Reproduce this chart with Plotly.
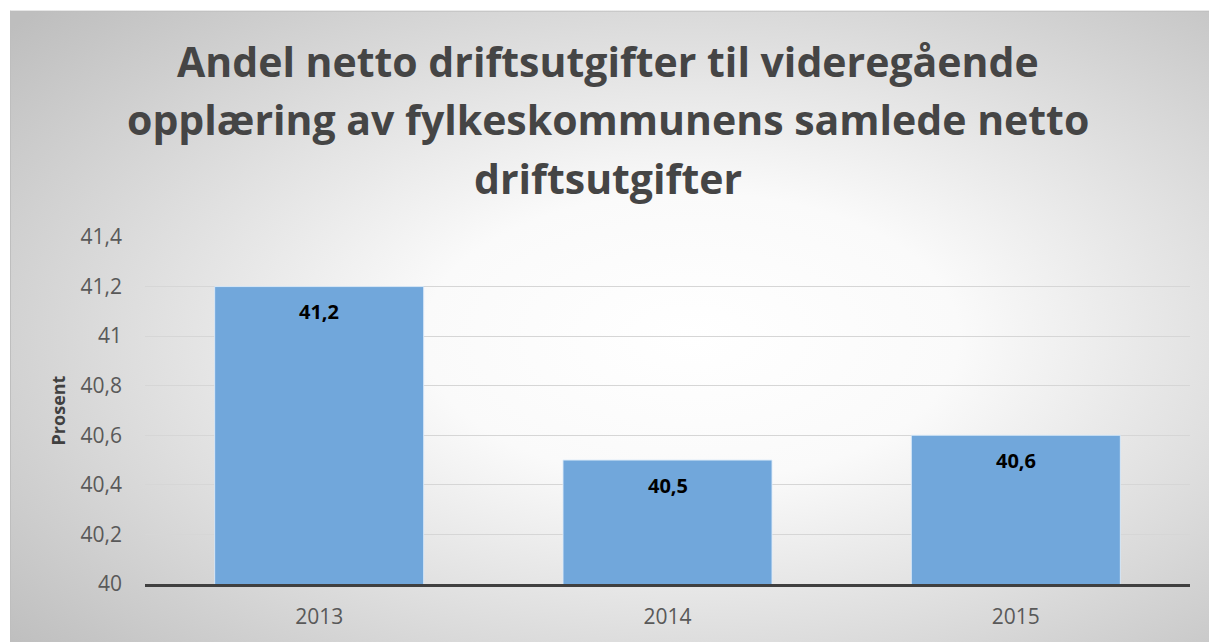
import base64
import plotly.graph_objects as go

# ---- data ----
years = ["2013", "2014", "2015"]
values = [41.2, 40.5, 40.6]
value_labels = ["41,2", "40,5", "40,6"]
y_ticks = [40, 40.2, 40.4, 40.6, 40.8, 41, 41.2, 41.4]
y_tick_labels = ["40", "40,2", "40,4", "40,6", "40,8", "41", "41,2", "41,4"]
title_lines = [
    "Andel netto driftsutgifter til videregående",
    "opplæring av fylkeskommunens samlede netto",
    "driftsutgifter",
]
y_title = "Prosent"

# ---- layout geometry (pixels) ----
W, H = 1209, 642
ML, MR, MT, MB = 145, 19, 237, 54
PW, PH = W - ML - MR, H - MT - MB

FONT = "Open Sans"

fig = go.Figure()
fig.add_trace(go.Bar(
    x=years, y=values,
    marker=dict(color="#71a7db", line=dict(color="rgba(220,235,250,0.9)", width=1)),
    width=0.6,
    hoverinfo="x+y",
))

# value labels inside bars near top (x given as category index)
for i, (yv, lab) in enumerate(zip(values, value_labels)):
    fig.add_annotation(x=i, y=yv, text=lab, showarrow=False, yanchor="middle",
                       yshift=-25, font=dict(family=FONT, size=20, color="#000000", weight="bold"))

# gradient background image for the chart area (extends past the right/bottom edges)
cw, ch = W - 10 + 40, H - 8 + 40
svg = (
    f'<svg xmlns="http://www.w3.org/2000/svg" width="{cw}" height="{ch}" viewBox="0 0 {cw} {ch}" preserveAspectRatio="none">'
    '<defs><radialGradient id="g" cx="0.55" cy="0.49" r="0.72">'
    '<stop offset="0" stop-color="#ffffff"/>'
    '<stop offset="0.3" stop-color="#fafafa"/>'
    '<stop offset="1" stop-color="#bebebe"/>'
    '</radialGradient></defs>'
    f'<rect x="0" y="0" width="{cw}" height="{ch}" fill="url(#g)"/>'
    f'<line x1="0" y1="0.5" x2="{cw}" y2="0.5" stroke="#bdbdbd" stroke-width="1"/>'
    f'<line x1="0.5" y1="0" x2="0.5" y2="{ch}" stroke="#bdbdbd" stroke-width="1"/>'
    '</svg>'
)
src = "data:image/svg+xml;base64," + base64.b64encode(svg.encode("utf-8")).decode("ascii")
fig.add_layout_image(
    source=src, xref="paper", yref="paper",
    x=(10 - ML) / PW, y=(H - MB - 8) / PH,
    sizex=cw / PW, sizey=ch / PH,
    xanchor="left", yanchor="top", sizing="stretch", layer="below",
)

# title lines
line_centers = [59, 118, 177]
for txt, yc in zip(title_lines, line_centers):
    fig.add_annotation(xref="paper", yref="paper", x=(608 - ML) / PW, y=(H - MB - yc) / PH,
                       text=txt, showarrow=False, xanchor="center", yanchor="middle",
                       font=dict(family=FONT, size=41, color="#454545", weight="bold"))

# partial caption at very top (cut off in the reference too)
fig.add_annotation(xref="paper", yref="paper", x=(8 - ML) / PW, y=(H - MB + 4) / PH,
                   text="Figur 6", showarrow=False, xanchor="left", yanchor="bottom",
                   font=dict(family="Liberation Serif", size=20, color="#000000"))

fig.update_layout(
    width=W, height=H,
    margin=dict(l=ML, r=MR, t=MT, b=MB, pad=0),
    paper_bgcolor="#ffffff",
    plot_bgcolor="rgba(0,0,0,0)",
    separators=", ",
    showlegend=False,
    bargap=0.4,
    font=dict(family=FONT, color="#595959"),
    xaxis=dict(
        type="category",
        showline=True, linecolor="#404040", linewidth=3,
        showgrid=False, ticks="", tickfont=dict(size=21, color="#595959"),
        ticklabelstandoff=12, fixedrange=True,
    ),
    yaxis=dict(
        range=[40, 41.4], tickvals=y_ticks, ticktext=y_tick_labels,
        showgrid=True, gridcolor="#d6d6d6", gridwidth=1,
        zeroline=False, showline=False, ticks="",
        tickfont=dict(size=21, color="#595959"), ticklabelstandoff=22,
        title=dict(text=y_title, font=dict(size=18, color="#404040", weight="bold"), standoff=10),
        fixedrange=True,
    ),
)

fig.write_html(
    "out.html",
    config={"displayModeBar": False},
    post_script=(
        "document.body.style.margin='0';document.body.style.padding='0';"
        "document.documentElement.style.overflow='hidden';document.body.style.overflow='hidden';"
    ),
)
